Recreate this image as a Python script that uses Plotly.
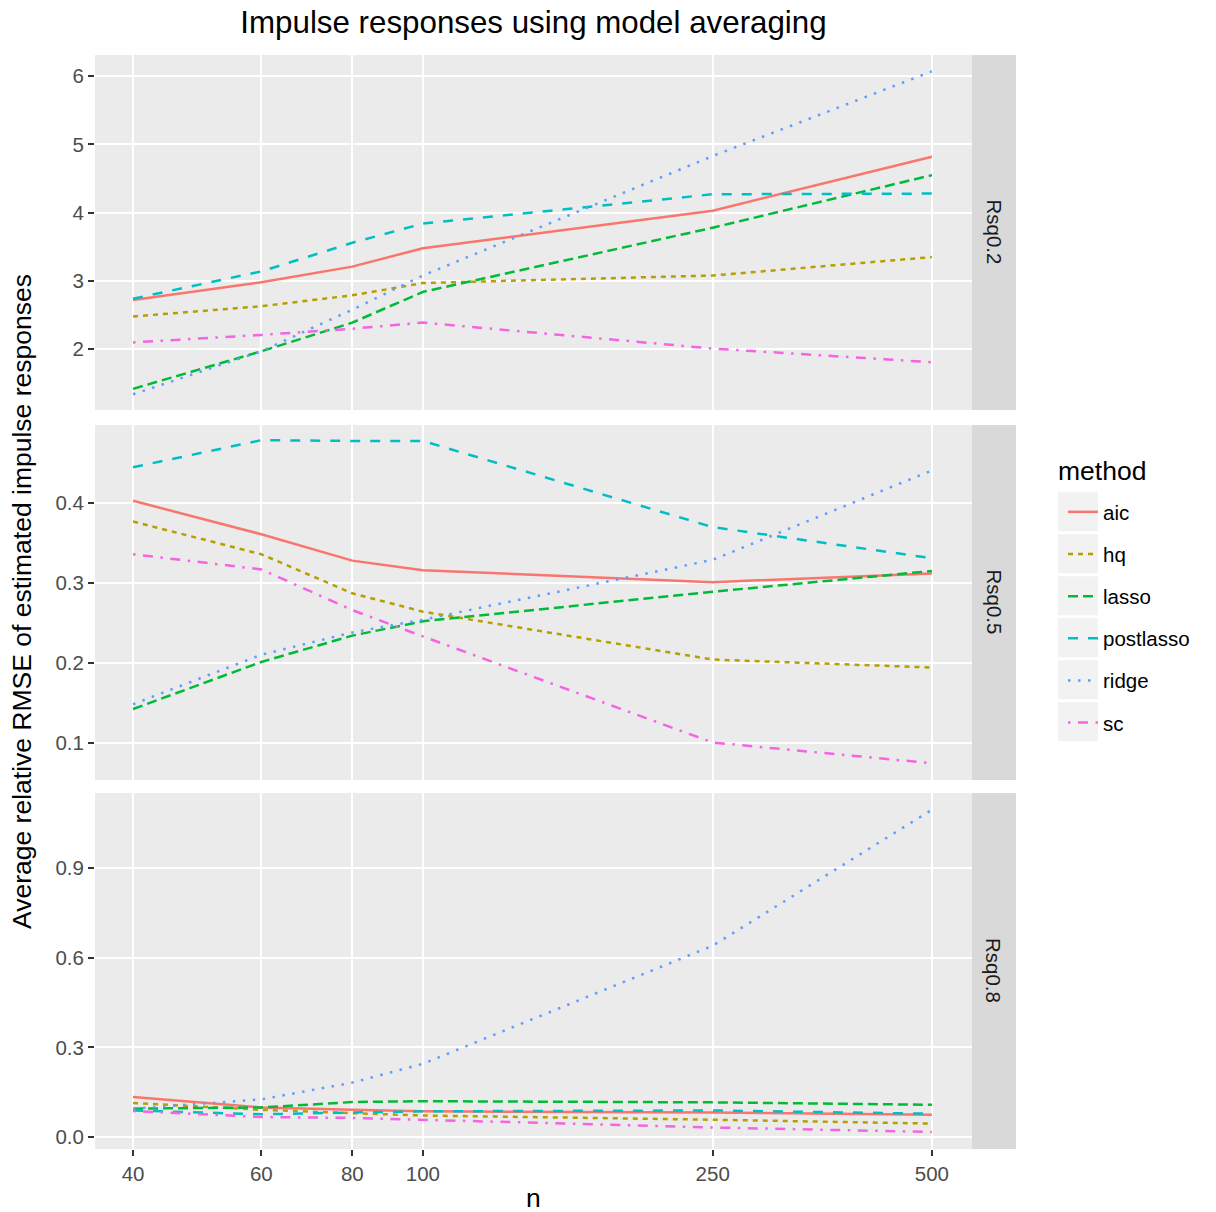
import plotly.graph_objects as go

n_vals = [40, 60, 80, 100, 250, 500]
methods = ["aic", "hq", "lasso", "postlasso", "ridge", "sc"]
panels = ["Rsq0.2", "Rsq0.5", "Rsq0.8"]

# Rsq0.2
r02_aic = [2.72, 2.98, 3.21, 3.48, 4.03, 4.82]
r02_hq = [2.48, 2.63, 2.79, 2.97, 3.08, 3.35]
r02_lasso = [1.42, 1.97, 2.39, 2.84, 3.78, 4.55]
r02_postlasso = [2.74, 3.14, 3.56, 3.84, 4.27, 4.28]
r02_ridge = [1.34, 1.97, 2.58, 3.08, 4.83, 6.07]
r02_sc = [2.10, 2.21, 2.30, 2.39, 2.01, 1.81]

# Rsq0.5
r05_aic = [0.403, 0.361, 0.328, 0.316, 0.301, 0.312]
r05_hq = [0.377, 0.336, 0.287, 0.264, 0.204, 0.194]
r05_lasso = [0.142, 0.201, 0.234, 0.252, 0.289, 0.315]
r05_postlasso = [0.445, 0.479, 0.478, 0.478, 0.370, 0.331]
r05_ridge = [0.148, 0.210, 0.238, 0.254, 0.329, 0.441]
r05_sc = [0.336, 0.317, 0.266, 0.233, 0.100, 0.074]

# Rsq0.8
r08_aic = [0.134, 0.099, 0.091, 0.086, 0.082, 0.075]
r08_hq = [0.114, 0.091, 0.080, 0.072, 0.058, 0.045]
r08_lasso = [0.095, 0.099, 0.117, 0.120, 0.116, 0.108]
r08_postlasso = [0.089, 0.076, 0.082, 0.086, 0.089, 0.078]
r08_ridge = [0.095, 0.126, 0.182, 0.245, 0.640, 1.095]
r08_sc = [0.087, 0.067, 0.064, 0.058, 0.032, 0.017]

data = {
    "Rsq0.2": [r02_aic, r02_hq, r02_lasso, r02_postlasso, r02_ridge, r02_sc],
    "Rsq0.5": [r05_aic, r05_hq, r05_lasso, r05_postlasso, r05_ridge, r05_sc],
    "Rsq0.8": [r08_aic, r08_hq, r08_lasso, r08_postlasso, r08_ridge, r08_sc],
}

colors = ["#F8766D", "#B79F00", "#00BA38", "#00BFC4", "#619CFF", "#F564E3"]
LW = 2.5
u = LW
dashes = ["solid",
          f"{2*u}px,{2*u}px",
          f"{4*u}px,{2*u}px",
          f"{4*u}px,{4*u}px",
          f"{1*u}px,{3*u}px",
          f"{1*u}px,{3*u}px,{4*u}px,{3*u}px"]

W, H = 1216, 1212
L, R, T, B = 95, 972, 55, 1149
PW, PH = R - L, B - T
panel_px = [(55, 410), (425, 780), (793, 1149)]
domains = [[(B - b) / PH, (B - t) / PH] for t, b in panel_px]

yranges = [[1.11, 6.31], [0.053, 0.498], [-0.04, 1.151]]
ytickvals = [[2, 3, 4, 5, 6], [0.1, 0.2, 0.3, 0.4], [0.0, 0.3, 0.6, 0.9]]
ytickfmt = ["d", ".1f", ".1f"]

font = "Liberation Sans, Arial, sans-serif"
TICK = 20.5
TITLE2 = 26.5
fig = go.Figure()

for pi, p in enumerate(panels):
    xa = "x" if pi == 0 else f"x{pi+1}"
    ya = "y" if pi == 0 else f"y{pi+1}"
    for mi, m in enumerate(methods):
        fig.add_trace(go.Scatter(
            x=n_vals, y=data[p][mi], mode="lines", name=m,
            legendgroup=m, showlegend=(pi == 0),
            line=dict(color=colors[mi], width=LW, dash=dashes[mi]),
            xaxis=xa, yaxis=ya,
        ))

xr = [1.5498, 2.754]
for pi in range(3):
    k = "" if pi == 0 else str(pi + 1)
    bottom = pi == 2
    fig.update_layout({
        f"xaxis{k}": dict(
            type="log", range=xr, domain=[0, 1], anchor=f"y{k}",
            tickvals=n_vals, ticktext=[str(v) for v in n_vals],
            showticklabels=bottom, ticks="outside" if bottom else "",
            ticklen=6, tickwidth=2, tickcolor="#333333",
            tickfont=dict(family=font, size=TICK, color="#4D4D4D"),
            showgrid=True, gridcolor="white", gridwidth=2.2,
            zeroline=False, showline=False,
            matches="x" if pi > 0 else None,
        ),
        f"yaxis{k}": dict(
            range=yranges[pi], domain=domains[pi], anchor=f"x{k}",
            tickvals=ytickvals[pi], tickformat=ytickfmt[pi],
            ticks="outside", ticklen=6, tickwidth=2, tickcolor="#333333",
            tickfont=dict(family=font, size=TICK, color="#4D4D4D"),
            showgrid=True, gridcolor="white", gridwidth=2.2,
            zeroline=False, showline=False,
        ),
    })

shapes = []
annotations = []
for pi, (t, b) in enumerate(panel_px):
    d = domains[pi]
    shapes.append(dict(type="rect", xref="paper", yref="paper", x0=0, x1=1,
                       y0=d[0], y1=d[1], fillcolor="#EBEBEB", line_width=0, layer="below"))
    shapes.append(dict(type="rect", xref="paper", yref="paper", x0=1, x1=1 + 44 / PW,
                       y0=d[0], y1=d[1], fillcolor="#D9D9D9", line_width=0, layer="below"))
    annotations.append(dict(text=panels[pi], xref="paper", yref="paper",
                            x=1 + 22 / PW, y=(d[0] + d[1]) / 2, showarrow=False,
                            textangle=90, font=dict(family=font, size=TICK, color="#1A1A1A"),
                            xanchor="center", yanchor="middle"))

# legend key backgrounds
for i in range(6):
    cy = 511.7 + 42 * i
    shapes.append(dict(type="rect", xref="paper", yref="paper",
                       x0=(1058 - L) / PW, x1=(1098 - L) / PW,
                       y0=(B - (cy + 19.5)) / PH, y1=(B - (cy - 19.5)) / PH,
                       fillcolor="#F2F2F2", line_width=0, layer="below"))

annotations.append(dict(text="method", xref="paper", yref="paper",
                        x=(1056 - L) / PW, y=(B - 471) / PH, showarrow=False,
                        xanchor="left", yanchor="middle",
                        font=dict(family=font, size=TITLE2, color="black")))
annotations.append(dict(text="Average relative RMSE of estimated impulse responses",
                        xref="paper", yref="paper", x=(22 - L) / PW, y=0.5,
                        showarrow=False, textangle=-90, xanchor="center", yanchor="middle",
                        font=dict(family=font, size=TITLE2, color="black")))
annotations.append(dict(text="n", xref="paper", yref="paper", x=0.5,
                        y=(B - 1198) / PH, showarrow=False, xanchor="center", yanchor="middle",
                        font=dict(family=font, size=TITLE2, color="black")))

fig.update_layout(
    width=W, height=H,
    margin=dict(l=L, r=W - R, t=T, b=H - B),
    paper_bgcolor="white", plot_bgcolor="rgba(0,0,0,0)",
    title=dict(text="Impulse responses using model averaging", x=(L + R) / 2 / W,
               xref="container", y=1 - 22 / H, yref="container",
               xanchor="center", yanchor="middle",
               font=dict(family=font, size=31.3, color="black")),
    shapes=shapes, annotations=annotations,
    showlegend=True,
    legend=dict(x=(1063 - L) / PW, y=(B - 492) / PH, xanchor="left", yanchor="top",
                bgcolor="rgba(0,0,0,0)", tracegroupgap=12.5,
                font=dict(family=font, size=TICK, color="black"),
                itemwidth=30),
)

fig.write_html("out.html", config={"displayModeBar": False},
               post_script="document.body.style.margin='0px';")
